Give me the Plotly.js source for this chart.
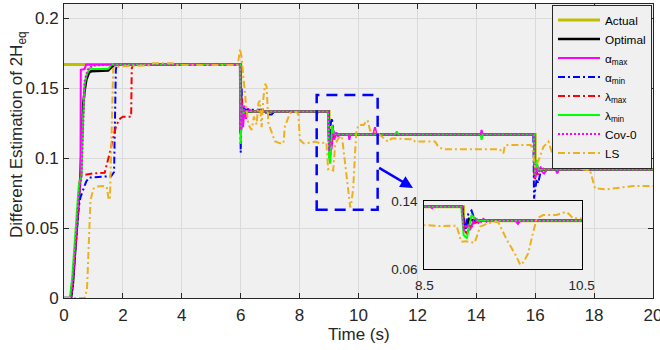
<!DOCTYPE html>
<html>
<head>
<meta charset="utf-8">
<script src="https://cdn.plot.ly/plotly-3.0.1.min.js"></script>
<style>html,body{margin:0;padding:0;background:#fff;}#chart{width:660px;height:350px;}</style>
</head>
<body>
<div id="chart"></div>
<script>
// ---- data: [time (s), estimated 2H_eq] pairs per series ----
const actualPts = [[0,0.1667],[6,0.1667],[6,0.1333],[9,0.1333],[9,0.1167],[16,0.1167],[16,0.0917],[20,0.0917]];

const optimalPts = [[0,0],[0.24,0],[0.3,0.01],[0.4,0.04],[0.5,0.07],[0.56,0.088],[0.62,0.12],[0.65,0.138],[0.7,0.148],[0.76,0.156],[0.85,0.161],[0.92,0.162],[1.1,0.1622],[1.3,0.1624],[1.5,0.1625],[1.6,0.1645],[1.65,0.165],[1.7,0.1667],[5.98,0.1667],[6.0,0.118],[6.03,0.126],[6.07,0.136],[6.12,0.1325],[6.2,0.1333],[8.98,0.1333],[9.0,0.112],[9.03,0.108],[9.07,0.119],[9.12,0.1172],[9.2,0.1167],[15.96,0.1167],[15.99,0.086],[16.03,0.094],[16.08,0.0925],[16.15,0.0917],[17.6,0.0917],[17.65,0.093],[17.7,0.0917],[20,0.0917]];

const alphaMaxPts = [[0,0],[0.22,0],[0.3,0.015],[0.4,0.045],[0.5,0.075],[0.56,0.088],[0.57,0.163],[0.7,0.1635],[0.75,0.1667],[5.98,0.1667],[6.0,0.125],[6.04,0.14],[6.08,0.122],[6.12,0.135],[6.18,0.128],[6.25,0.135],[6.4,0.1333],[8.58,0.1333],[8.6,0.1315],[8.62,0.1333],[8.98,0.1333],[9.0,0.108],[9.04,0.112],[9.08,0.106],[9.14,0.12],[9.2,0.1167],[9.66,0.1167],[9.69,0.113],[9.72,0.1167],[10.5,0.1167],[10.56,0.122],[10.62,0.1167],[14.15,0.1167],[14.18,0.12],[14.21,0.1167],[15.96,0.1167],[15.98,0.085],[16.05,0.095],[16.15,0.092],[16.3,0.089],[16.4,0.0917],[16.7,0.0917],[16.75,0.089],[16.8,0.0917],[20,0.0917]];

const alphaMinPts = [[0,0],[0.22,0],[0.3,0.012],[0.42,0.045],[0.5,0.065],[0.56,0.072],[0.65,0.078],[0.75,0.083],[0.85,0.086],[1.2,0.0865],[1.6,0.087],[1.7,0.09],[1.73,0.14],[1.76,0.163],[1.8,0.1667],[5.98,0.1667],[6.0,0.104],[6.03,0.15],[6.06,0.131],[6.1,0.135],[6.2,0.1345],[6.8,0.1345],[6.9,0.131],[7.05,0.131],[7.15,0.1333],[8.98,0.1333],[9.02,0.107],[9.06,0.125],[9.1,0.1286],[9.14,0.118],[9.2,0.1167],[15.94,0.1167],[15.96,0.071],[16.0,0.078],[16.05,0.085],[16.1,0.082],[16.2,0.0917],[20,0.0917]];

const lambdaMaxPts = [[0,0],[0.22,0],[0.3,0.015],[0.42,0.045],[0.5,0.075],[0.56,0.088],[0.7,0.088],[1.0,0.089],[1.38,0.0895],[1.48,0.097],[1.57,0.105],[1.66,0.114],[1.78,0.1236],[1.9,0.128],[2.0,0.1295],[2.28,0.1295],[2.3,0.164],[2.35,0.1667],[5.98,0.1667],[6.0,0.13],[6.04,0.1426],[6.08,0.13],[6.15,0.1333],[8.98,0.1333],[9.01,0.105],[9.04,0.102],[9.1,0.113],[9.22,0.1167],[15.96,0.1167],[15.99,0.085],[16.05,0.09],[16.1,0.088],[16.2,0.0917],[20,0.0917]];

const lambdaMinPts = [[0,0],[0.2,0],[0.28,0.015],[0.4,0.05],[0.5,0.08],[0.6,0.088],[0.63,0.12],[0.7,0.153],[0.78,0.16],[0.87,0.164],[1.0,0.1635],[1.5,0.1638],[1.56,0.165],[1.6,0.1667],[5.98,0.1667],[6.0,0.11],[6.03,0.138],[6.08,0.13],[6.12,0.134],[6.2,0.1333],[8.97,0.1333],[9.0,0.1],[9.04,0.096],[9.1,0.1235],[9.17,0.1167],[11.25,0.1167],[11.3,0.119],[11.35,0.1167],[14.15,0.1167],[14.18,0.113],[14.21,0.1167],[15.96,0.1167],[15.99,0.088],[16.05,0.0986],[16.1,0.091],[16.2,0.0917],[20,0.0917]];

const cov0Pts = [[0,0],[0.24,0],[0.3,0.01],[0.4,0.04],[0.5,0.072],[0.6,0.088],[0.65,0.12],[0.7,0.155],[0.8,0.163],[0.9,0.165],[1.0,0.166],[1.5,0.1667],[5.98,0.1667],[6.0,0.12],[6.03,0.14],[6.07,0.125],[6.12,0.138],[6.18,0.128],[6.25,0.135],[6.35,0.1333],[8.98,0.1333],[9.0,0.105],[9.05,0.112],[9.1,0.109],[9.15,0.118],[9.2,0.113],[9.25,0.119],[9.3,0.115],[9.35,0.117],[9.4,0.1167],[15.96,0.1167],[16.0,0.085],[16.05,0.093],[16.1,0.088],[16.2,0.094],[16.3,0.0917],[20,0.0917]];

const lsPts = [[0,0],[0.7,0],[0.78,0.006],[0.83,0.038],[0.9,0.07],[1.0,0.078],[1.1,0.0795],[1.3,0.08],[1.45,0.0795],[1.52,0.07],[1.56,0.071],[1.62,0.12],[1.67,0.164],[1.73,0.165],[2.0,0.1655],[2.9,0.1662],[3.0,0.1676],[3.7,0.1676],[3.8,0.1664],[5.9,0.1664],[5.98,0.178],[6.03,0.172],[6.1,0.155],[6.2,0.134],[6.26,0.124],[6.37,0.12],[6.45,0.1295],[6.54,0.124],[6.6,0.139],[6.65,0.141],[6.71,0.122],[6.77,0.143],[6.83,0.153],[6.88,0.151],[6.94,0.125],[7.05,0.118],[7.16,0.112],[7.33,0.1105],[7.45,0.1105],[7.5,0.1224],[7.67,0.132],[7.9,0.133],[7.96,0.131],[8.01,0.113],[8.13,0.1105],[8.4,0.111],[8.52,0.1117],[8.7,0.1105],[8.91,0.111],[8.97,0.092],[9.03,0.0925],[9.14,0.091],[9.21,0.1098],[9.31,0.1137],[9.4,0.1157],[9.44,0.115],[9.55,0.094],[9.66,0.0765],[9.72,0.0647],[9.76,0.068],[9.82,0.0785],[9.89,0.106],[9.93,0.1196],[10.01,0.1235],[10.18,0.1235],[10.25,0.126],[10.31,0.127],[10.35,0.1235],[10.39,0.1196],[10.5,0.1196],[10.73,0.1164],[11.0,0.1117],[11.13,0.114],[11.86,0.1133],[11.92,0.1117],[12.6,0.1117],[12.71,0.108],[12.88,0.1062],[14.8,0.1062],[14.92,0.1033],[14.97,0.109],[15.09,0.1093],[15.85,0.1093],[15.92,0.105],[15.99,0.0938],[16.1,0.0974],[16.28,0.108],[16.45,0.1117],[16.56,0.1045],[16.67,0.0974],[16.78,0.0962],[17.07,0.0962],[17.3,0.0938],[17.75,0.0914],[17.86,0.0914],[17.97,0.082],[18.03,0.0783],[18.43,0.0776],[19.33,0.08],[20,0.08]];

const seriesNames = ['Actual','Optimal','α<sub>max</sub>','α<sub>min</sub>','λ<sub>max</sub>','λ<sub>min</sub>','Cov-0','LS'];
const xTicks = [0,2,4,6,8,10,12,14,16,18,20];
const yTicks = [0,0.05,0.1,0.15,0.2];
const yTickText = ['0','0.05','0.1','0.15','0.2'];
const insetXTicks = [8.5,10.5];
const insetYTicks = [0.06,0.14];
const zoomBox = {x0:8.58, x1:10.65, y0:0.063, y1:0.145};
const arrowFrom = [10.65, 0.0936];
const arrowTo = [11.85, 0.0786];
const yTitle = 'Different Estimation of 2H<sub>eq</sub>';
const xTitle = 'Time (s)';

// ---- styles ----
const allPts = [actualPts, optimalPts, alphaMaxPts, alphaMinPts, lambdaMaxPts, lambdaMinPts, cov0Pts, lsPts];
const styles = [
  {color:'#bfbf00', width:3, dash:'solid'},
  {color:'#000000', width:2.5, dash:'solid'},
  {color:'#ff00ff', width:2, dash:'solid'},
  {color:'#0000ff', width:2, dash:'7px,3px,2px,3px'},
  {color:'#ff0000', width:2, dash:'7px,3px,2px,3px'},
  {color:'#00ff00', width:2, dash:'solid'},
  {color:'#ff00ff', width:2, dash:'2px,2px'},
  {color:'#edb120', width:2, dash:'7px,3px,2px,3px'}
];

const traces = [];
allPts.forEach((pts, i) => {
  traces.push({
    x: pts.map(p => p[0]), y: pts.map(p => p[1]),
    type: 'scatter', mode: 'lines', name: seriesNames[i],
    line: {color: styles[i].color, width: styles[i].width, dash: styles[i].dash},
    xaxis: 'x', yaxis: 'y', hoverinfo: 'skip'
  });
});
allPts.forEach((pts, i) => {
  traces.push({
    x: pts.map(p => p[0]), y: pts.map(p => p[1]),
    type: 'scatter', mode: 'lines', name: seriesNames[i], showlegend: false,
    line: {color: styles[i].color, width: styles[i].width, dash: styles[i].dash},
    xaxis: 'x2', yaxis: 'y2', hoverinfo: 'skip'
  });
});

const FONT = 'Liberation Sans, Arial, Helvetica, sans-serif';
const axisColor = '#262626';

const layout = {
  width: 660, height: 350,
  margin: {l: 64, r: 7, t: 4, b: 52},
  paper_bgcolor: '#ffffff',
  plot_bgcolor: '#f0f0f0',
  font: {family: FONT, size: 17, color: axisColor},
  showlegend: true,
  legend: {
    x: 0.8285, y: 0.998, xanchor: 'left', yanchor: 'top',
    bgcolor: '#f0f0f0', bordercolor: axisColor, borderwidth: 1,
    font: {family: FONT, size: 11.8, color: '#000'},
    tracegroupgap: 0, itemwidth: 42
  },
  xaxis: {
    domain: [0, 1], range: [0, 20], tickvals: xTicks,
    ticks: 'inside', ticklen: 5, tickcolor: axisColor,
    showline: true, linecolor: axisColor, linewidth: 1, mirror: 'ticks',
    showgrid: true, gridcolor: '#dadada', zeroline: false,
    tickfont: {size: 17, color: axisColor}, ticklabelstandoff: 2,
    ticklabeloverflow: 'allow'
  },
  yaxis: {
    domain: [0, 1], range: [0, 0.21], tickvals: yTicks, ticktext: yTickText,
    ticks: 'inside', ticklen: 5, tickcolor: axisColor,
    showline: true, linecolor: axisColor, linewidth: 1, mirror: 'ticks',
    showgrid: true, gridcolor: '#dadada', zeroline: false,
    tickfont: {size: 17, color: axisColor}, ticklabelstandoff: 1,
    ticklabeloverflow: 'allow'
  },
  xaxis2: {
    domain: [0.6117, 0.879], range: [8.5, 10.5], anchor: 'y2',
    tickvals: insetXTicks, ticktext: ['8.5','10.5'], ticks: '', showgrid: false, zeroline: false,
    showline: true, linecolor: '#000', linewidth: 1, mirror: true,
    tickfont: {size: 13.5, color: axisColor}, ticklabelstandoff: 4,
    ticklabeloverflow: 'allow'
  },
  yaxis2: {
    domain: [0.0986, 0.33], range: [0.06, 0.14], anchor: 'x2',
    tickvals: insetYTicks, ticktext: ['0.06','0.14'], ticks: '', showgrid: false, zeroline: false,
    showline: true, linecolor: '#000', linewidth: 1, mirror: true,
    tickfont: {size: 13.5, color: axisColor}, ticklabelstandoff: 3,
    ticklabeloverflow: 'allow'
  },
  shapes: [{
    type: 'rect', xref: 'x', yref: 'y',
    x0: zoomBox.x0, x1: zoomBox.x1, y0: zoomBox.y0, y1: zoomBox.y1,
    line: {color: '#0000ff', width: 2.5, dash: '11px,7px'}
  }],
  annotations: [{
    xref: 'x', yref: 'y', axref: 'x', ayref: 'y',
    x: arrowTo[0], y: arrowTo[1], ax: arrowFrom[0], ay: arrowFrom[1],
    text: '', showarrow: true, arrowcolor: '#0000ff', arrowwidth: 2.5, arrowhead: 2, arrowsize: 1
  }, {
    xref: 'paper', yref: 'paper', x: (18 - 64) / 589, y: (298 - 135) / 294,
    xanchor: 'center', yanchor: 'middle', textangle: -90, showarrow: false,
    text: yTitle, font: {family: FONT, size: 17, color: axisColor}
  }, {
    xref: 'paper', yref: 'paper', x: 0.5, y: (298 - 334) / 294,
    xanchor: 'center', yanchor: 'middle', showarrow: false,
    text: xTitle, font: {family: FONT, size: 17, color: axisColor}
  }]
};

Plotly.newPlot('chart', traces, layout, {staticPlot: true, displayModeBar: false});
</script>
</body>
</html>
